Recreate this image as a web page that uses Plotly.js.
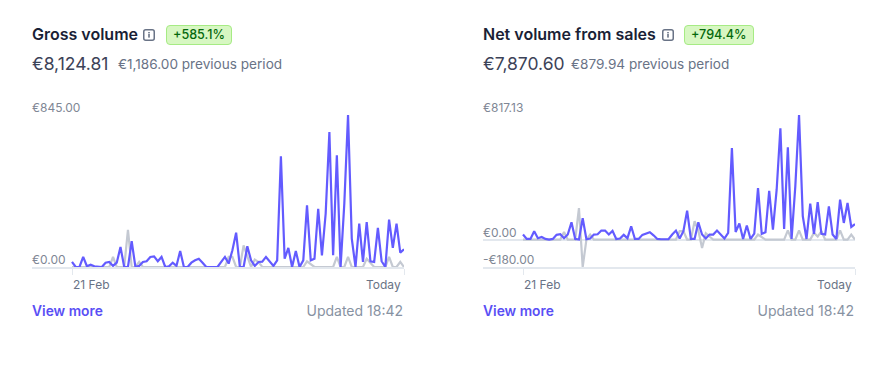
<!DOCTYPE html>
<html><head><meta charset="utf-8">
<script src="https://cdn.plot.ly/plotly-3.0.1.min.js"></script>
<style>
html,body{margin:0;padding:0;background:#fff;width:886px;height:371px;overflow:hidden;font-family:Inter,sans-serif}
#chart{position:absolute;left:0;top:0;width:886px;height:371px}
.t{position:absolute;white-space:nowrap;line-height:1}
.title{font-size:16px;font-weight:600;color:#1a1f36;top:26px}
.val{font-size:17.5px;color:#3c4257;top:55px;font-weight:400}
.prev{font-size:13.6px;color:#697386;top:58px}
.badge{top:25px;height:18px;line-height:18px;font-size:12.6px;font-weight:500;color:#05690d;background:#d7f7c2;border:1px solid #a6eb84;border-radius:4px;padding:0 6px;box-sizing:content-box}
.more{font-size:13.8px;font-weight:600;color:#5a4ff5;top:305px}
.upd{font-size:14px;color:#8792a2;top:304px;text-align:right}
svg.i{position:absolute;top:29px;width:12px;height:12px}
</style></head><body>
<div id="chart"></div>
<div class="t title" style="left:32px">Gross volume</div>
<svg class="i" style="left:143px" viewBox="0 0 12 12"><rect x=".75" y=".75" width="10.5" height="10.5" rx="2" fill="none" stroke="#697386" stroke-width="1.5"/><rect x="5.2" y="5" width="1.6" height="3.6" fill="#697386"/><rect x="5.2" y="3" width="1.6" height="1.4" fill="#697386"/></svg>
<div class="t badge" style="left:166px">+585.1%</div>
<div class="t val" style="left:32px">€8,124.81</div>
<div class="t prev" style="left:118px">€1,186.00 previous period</div>
<div class="t more" style="left:32px">View more</div>
<div class="t upd" style="right:483px">Updated 18:42</div>

<div class="t title" style="left:483px">Net volume from sales</div>
<svg class="i" style="left:662px" viewBox="0 0 12 12"><rect x=".75" y=".75" width="10.5" height="10.5" rx="2" fill="none" stroke="#697386" stroke-width="1.5"/><rect x="5.2" y="5" width="1.6" height="3.6" fill="#697386"/><rect x="5.2" y="3" width="1.6" height="1.4" fill="#697386"/></svg>
<div class="t badge" style="left:684px">+794.4%</div>
<div class="t val" style="left:483px">€7,870.60</div>
<div class="t prev" style="left:571px">€879.94 previous period</div>
<div class="t more" style="left:483px">View more</div>
<div class="t upd" style="right:32px">Updated 18:42</div>
<script>
const grossCurrent=[28,0,0,56,4,13,4,0,0,24,28,6,24,111,0,0,143,0,6,28,32,56,59,32,56,0,4,24,6,89,0,0,24,37,46,24,0,0,0,0,28,56,19,93,191,0,0,115,37,6,28,30,56,28,6,37,615,46,106,0,89,0,37,343,37,46,324,65,296,750,65,621,0,352,845,158,0,241,28,250,32,28,217,32,0,263,106,241,80,98];
const grossPrevious=[0,0,0,0,0,0,0,0,0,0,0,56,0,0,0,207,0,0,28,0,0,0,0,0,0,0,0,0,0,0,0,0,0,0,0,0,0,0,0,0,0,0,56,56,0,0,120,60,0,41,28,0,0,0,0,0,0,0,0,0,0,0,0,31,15,0,0,0,0,0,0,56,0,0,56,0,0,0,0,46,20,0,0,0,0,56,0,0,28,0];
const netCurrent=[33,4,4,55,9,17,4,0,4,31,35,9,33,113,4,0,140,2,7,33,35,59,59,33,57,4,7,31,9,87,4,4,31,39,48,28,4,2,2,2,33,59,7,55,190,4,4,113,33,7,33,33,59,33,7,44,600,50,105,4,92,4,39,338,37,48,320,65,327,730,70,606,4,349,817.13,153,4,235,37,246,37,33,218,33,4,262,109,240,83,102];
const netPrevious=[0,0,0,0,0,0,0,0,0,0,0,50,0,0,0,207,-180,0,33,0,0,0,0,0,0,0,0,0,0,0,0,0,0,0,0,0,0,0,0,0,0,0,55,55,0,0,120,60,-55,41,20,0,0,0,0,0,0,0,0,0,0,0,0,33,15,0,0,0,0,0,0,60,0,0,60,0,0,0,44,20,55,0,0,0,0,60,0,0,33,0];
const days=grossCurrent.map((_,i)=>i);
const lastDay=days.length-1;
const grossTicks=[0,845], grossTickText=['€0.00','€845.00'];
const netTicks=[-180,0,817.13], netTickText=['-€180.00','€0.00','€817.13'];
const W=886,H=371;
const PURPLE='#635bff',GRAY='#c4c9d2',LINE='#e3e8ee',TXT='#7f8795',XTXT='#697386';
const xr=[-40/(332/lastDay),lastDay];
function ln(x,y,c,xa,ya){return{x:x,y:y,xaxis:xa,yaxis:ya,type:'scatter',mode:'lines',line:{color:c,width:2.2},hoverinfo:'skip',showlegend:false};}
const xax=(a,b)=>({domain:[a/W,b/W],range:xr,showgrid:false,zeroline:false,showline:true,linecolor:LINE,linewidth:2,tickmode:'array',tickvals:[0,lastDay],ticktext:['',''],ticks:'outside',ticklen:6,tickwidth:1,tickcolor:LINE,fixedrange:true});
const yax=(r,x)=>({domain:[1-267/H,1-115/H],range:r,showgrid:false,zeroline:true,zerolinecolor:LINE,zerolinewidth:2,showline:false,showticklabels:false,ticks:'',anchor:x,fixedrange:true});
const xl=(text,x,xref,anchor,off)=>({text:text,x:x,xref:xref,y:1-275/H,yref:'paper',yanchor:'top',xanchor:anchor,xshift:off,showarrow:false,font:{family:'Inter',size:12,color:XTXT}});
const yl=(text,y,yref,left)=>({text:text,x:left/W,xref:'paper',xshift:-2,y:y,yref:yref,yanchor:'bottom',yshift:-2,xanchor:'left',showarrow:false,font:{family:'Inter',size:12,color:TXT}});
const yLabels=(ticks,text,yref,left)=>ticks.map((v,i)=>yl(text[i],v,yref,left));
Plotly.newPlot('chart',[
 ln(days,grossPrevious,GRAY,'x','y'),ln(days,grossCurrent,PURPLE,'x','y'),
 ln(days,netPrevious,GRAY,'x2','y2'),ln(days,netCurrent,PURPLE,'x2','y2')
],{
 width:W,height:H,margin:{l:0,r:0,t:0,b:0},paper_bgcolor:'#fff',plot_bgcolor:'rgba(0,0,0,0)',
 font:{family:'Inter'},
 xaxis:xax(32,404),yaxis:yax([0,845],'x'),
 xaxis2:Object.assign(xax(483,855),{anchor:'y2'}),yaxis2:yax([-180,817.13],'x2'),
 annotations:[xl('21 Feb',0,'x','left',-1),xl('Today',lastDay,'x','right',-1),xl('21 Feb',0,'x2','left',-1),xl('Today',lastDay,'x2','right',-1)]
  .concat(yLabels(grossTicks,grossTickText,'y',32),yLabels(netTicks,netTickText,'y2',483))
},{staticPlot:true,displayModeBar:false});
</script>
</body></html>
